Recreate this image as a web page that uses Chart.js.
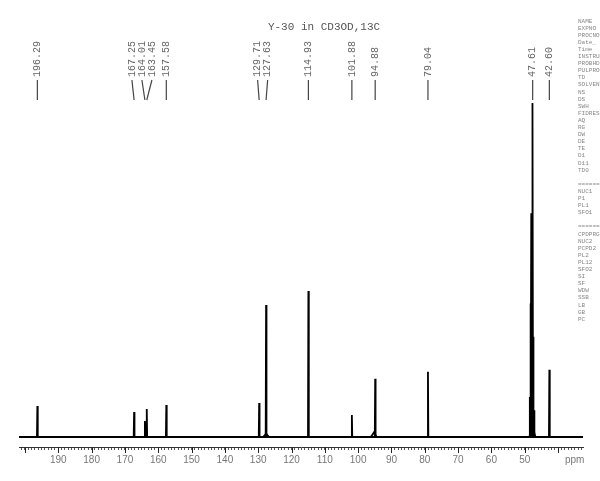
<!DOCTYPE html>
<html>
<head>
<meta charset="utf-8">
<title>Y-30 in CD3OD,13C</title>
<script src="https://cdn.jsdelivr.net/npm/chart.js@4/dist/chart.umd.min.js"></script>
<style>
    body { margin: 0; background: #fff; overflow: hidden; }
    #wrap { width: 600px; height: 481px; position: relative; }
</style>
</head>
<body>
<div id="wrap"><canvas id="spectrum"></canvas></div>
<script>
// titulo e faixa do eixo (ppm)
var titleText = 'Y-30 in CD3OD,13C';
var ppmMin = 32.5;
var ppmMax = 201.8;

// picos assinalados (ppm) e alturas relativas
var peakShifts  = [196.29, 167.25, 164.01, 163.45, 157.58, 129.71, 127.63, 114.93, 101.88, 94.88, 79.04, 47.61, 42.60];
var peakHeights = [9.3,    7.5,    4.8,    8.4,    9.6,    10.2,   39.5,   43.7,   6.6,    17.4,  19.5,  100,   20.1];

// multipleto do solvente (CD3OD) em volta de 47.61
var solventShifts  = [48.46, 48.25, 48.03, 47.82, 47.40, 47.19];
var solventHeights = [12,    40,    67,    66,    30,    8];

// pequenas elevacoes largas na base de alguns picos
var humpShifts  = [127.63, 95.3, 47.7];
var humpHeights = [1.0,    1.3,  3.5];

// rotulos do eixo x
var tickLabels = [190, 180, 170, 160, 150, 140, 130, 120, 110, 100, 90, 80, 70, 60, 50];
var unitLabel = 'ppm';
var unitTick = 35;

// parametros de aquisicao (cortados na borda direita)
var paramNames = ['NAME', 'EXPNO', 'PROCNO', 'Date_', 'Time', 'INSTRUM', 'PROBHD', 'PULPROG', 'TD', 'SOLVENT',
    'NS', 'DS', 'SWH', 'FIDRES', 'AQ', 'RG', 'DW', 'DE', 'TE', 'D1', 'D11', 'TD0', '',
    '=======', 'NUC1', 'P1', 'PL1', 'SFO1', '',
    '=======', 'CPDPRG2', 'NUC2', 'PCPD2', 'PL2', 'PL12', 'SFO2', 'SI', 'SF', 'WDW', 'SSB', 'LB', 'GB', 'PC'];

function spikes(shifts, heights, w) {
    var pts = [];
    shifts.forEach(function(s, i) {
        pts.push({ x: s + w, y: 0 }, { x: s, y: heights[i] }, { x: s - w, y: 0 });
    });
    return pts;
}

function buildSpectrum() {
    var pts = [{ x: ppmMax, y: 0 }];
    pts = pts.concat(spikes(peakShifts, peakHeights, 0.12));
    pts = pts.concat(spikes(solventShifts, solventHeights, 0.1));
    pts.push({ x: ppmMin, y: 0 });
    pts.sort(function(a, b) { return b.x - a.x; });
    return pts;
}

function buildHumps() {
    var pts = [];
    humpShifts.forEach(function(s, i) {
        pts.push({ x: s + 0.9, y: 0 }, { x: s, y: humpHeights[i] }, { x: s - 0.9, y: 0 }, { x: s - 1, y: null });
    });
    return pts;
}

// espalha os rotulos dos picos para que nao se sobreponham
function spreadLabels(pos, gap) {
    var groups = pos.map(function(p) { return { sum: p, n: 1, start: p }; });
    var merged = true;
    while (merged) {
        merged = false;
        for (var i = 0; i < groups.length - 1; i++) {
            var a = groups[i], b = groups[i + 1];
            if (a.start + a.n * gap > b.start) {
                var g = { sum: a.sum + b.sum, n: a.n + b.n };
                g.start = g.sum / g.n - (g.n - 1) * gap / 2;
                groups.splice(i, 2, g);
                merged = true;
                break;
            }
        }
    }
    var out = [];
    groups.forEach(function(g) {
        for (var k = 0; k < g.n; k++) out.push(g.start + k * gap);
    });
    return out;
}

var overlay = {
    id: 'overlay',
    afterDraw: function(chart) {
        var ctx = chart.ctx;
        var xs = chart.scales.x;
        var area = chart.chartArea;
        ctx.save();

        // titulo
        ctx.fillStyle = '#555';
        ctx.font = '11px "Liberation Mono", monospace';
        ctx.textAlign = 'center';
        ctx.textBaseline = 'middle';
        ctx.fillText(titleText, 324, 27);

        // tracos maiores a cada 10 ppm
        ctx.strokeStyle = '#222';
        ctx.lineWidth = 1;
        for (var v = 40; v <= 200; v += 10) {
            var tx = Math.round(xs.getPixelForValue(v)) + 0.5;
            ctx.beginPath();
            ctx.moveTo(tx, area.bottom);
            ctx.lineTo(tx, area.bottom + 6);
            ctx.stroke();
        }

        // rotulos dos picos
        var order = peakShifts.map(function(s, i) { return i; });
        order.sort(function(a, b) { return xs.getPixelForValue(peakShifts[a]) - xs.getPixelForValue(peakShifts[b]); });
        var px = order.map(function(i) { return xs.getPixelForValue(peakShifts[i]); });
        var lx = spreadLabels(px, 10);
        ctx.font = '10px "Liberation Mono", monospace';
        ctx.fillStyle = '#666';
        ctx.strokeStyle = '#444';
        ctx.lineWidth = 1.2;
        order.forEach(function(idx, k) {
            ctx.beginPath();
            ctx.moveTo(lx[k], 80);
            ctx.lineTo(px[k], 100);
            ctx.stroke();
            ctx.save();
            ctx.translate(lx[k], 77);
            ctx.rotate(-Math.PI / 2);
            ctx.textAlign = 'left';
            ctx.textBaseline = 'middle';
            ctx.fillText(peakShifts[idx].toFixed(2), 0, 0);
            ctx.restore();
        });

        // bloco de parametros
        ctx.font = '6px "Liberation Mono", monospace';
        ctx.fillStyle = '#888';
        ctx.textAlign = 'left';
        ctx.textBaseline = 'middle';
        paramNames.forEach(function(name, i) {
            if (name) ctx.fillText(name, 578, 21 + i * 7.1);
        });

        ctx.restore();
    }
};

document.addEventListener('DOMContentLoaded', function() {
    var ctx = document.getElementById('spectrum').getContext('2d');

    window.spectrumChart = new Chart(ctx, {
        type: 'line',
        data: {
            datasets: [
                {
                    data: buildSpectrum(),
                    borderColor: '#000',
                    borderWidth: 1.8,
                    pointRadius: 0,
                    fill: false
                },
                {
                    data: buildHumps(),
                    borderColor: '#000',
                    borderWidth: 1.8,
                    pointRadius: 0,
                    spanGaps: false,
                    fill: false
                }
            ]
        },
        options: {
            responsive: true,
            maintainAspectRatio: false,
            animation: false,
            layout: { padding: { left: 19, right: 17, top: 93, bottom: 0 } },
            plugins: {
                legend: { display: false },
                tooltip: { enabled: false },
                title: { display: false }
            },
            elements: { line: { tension: 0 } },
            scales: {
                x: {
                    type: 'linear',
                    reverse: true,
                    min: ppmMin,
                    max: ppmMax,
                    afterFit: function(scale) { scale.height = 34; },
                    grid: {
                        drawOnChartArea: false,
                        drawTicks: true,
                        tickLength: 3,
                        color: '#555'
                    },
                    border: { display: true, color: '#333', width: 1 },
                    ticks: {
                        stepSize: 1,
                        autoSkip: false,
                        includeBounds: false,
                        maxRotation: 0,
                        minRotation: 0,
                        padding: 4,
                        color: '#777',
                        font: { family: '"Liberation Sans", Arial, sans-serif', size: 10 },
                        callback: function(value) {
                            if (value === unitTick) return unitLabel;
                            return tickLabels.indexOf(value) >= 0 ? String(value) : '';
                        }
                    }
                },
                y: {
                    display: false,
                    min: -3,
                    max: 103
                }
            }
        },
        plugins: [overlay]
    });
});
</script>
</body>
</html>
